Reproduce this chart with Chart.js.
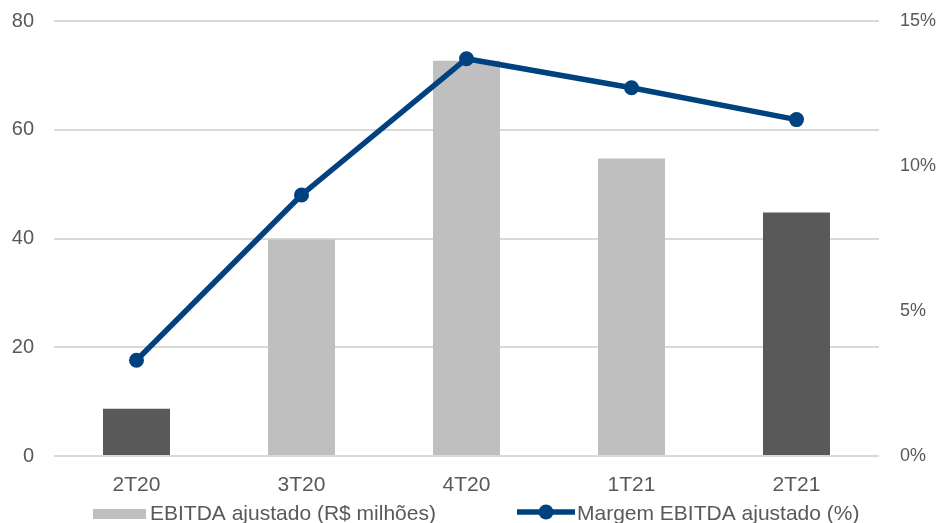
<!DOCTYPE html>
<html>
<head>
<meta charset="utf-8">
<script src="https://cdn.jsdelivr.net/npm/chart.js@4.4.0/dist/chart.umd.min.js"></script>
<style>
  html, body { margin: 0; padding: 0; background: #fff; }
</style>
</head>
<body>
<canvas id="ebitdaChart" width="937" height="523"></canvas>
<script>
// dados
const trimestres = ["2T20", "3T20", "4T20", "1T21", "2T21"];
const ebitdaAjustado = [8.7, 39.8, 72.7, 54.7, 44.8];
const margemEbitda = [3.3, 9.0, 13.7, 12.7, 11.6];
const ticksEsquerda = [0, 20, 40, 60, 80];
const ticksDireita = [0, 5, 10, 15];

const corBarras = ["#595959", "#bfbfbf", "#bfbfbf", "#bfbfbf", "#595959"];
const azul = "#00427f";
const cinzaTexto = "#595959";

Chart.defaults.font.family = '"Liberation Sans", Arial, sans-serif';
Chart.defaults.font.size = 20;
Chart.defaults.color = cinzaTexto;

// legenda desenhada à mão (caixa + linha com marcador)
const legendaManual = {
  id: "legendaManual",
  afterDraw(chart) {
    const ctx = chart.ctx;
    const barras = chart.data.datasets[0];
    const linha = chart.data.datasets[1];
    ctx.save();
    ctx.font = '21px "Liberation Sans", Arial, sans-serif';
    ctx.textBaseline = "alphabetic";

    ctx.fillStyle = "#bfbfbf";
    ctx.fillRect(93, 509, 53, 10);
    ctx.fillStyle = cinzaTexto;
    ctx.fillText(barras.label, 150, 520);

    ctx.strokeStyle = linha.borderColor;
    ctx.lineWidth = 5.5;
    ctx.beginPath();
    ctx.moveTo(517, 512);
    ctx.lineTo(575, 512);
    ctx.stroke();
    ctx.fillStyle = linha.borderColor;
    ctx.beginPath();
    ctx.arc(546, 512, 7.5, 0, Math.PI * 2);
    ctx.fill();
    ctx.fillStyle = cinzaTexto;
    ctx.fillText(linha.label, 577, 520);
    ctx.restore();
  }
};

function semFolga(scale) {
  scale.paddingTop = 0;
  scale.paddingBottom = 0;
}

new Chart(document.getElementById("ebitdaChart"), {
  type: "bar",
  data: {
    labels: trimestres,
    datasets: [
      {
        type: "bar",
        label: "EBITDA ajustado (R$ milhões)",
        data: ebitdaAjustado,
        backgroundColor: corBarras,
        barPercentage: 0.406,
        categoryPercentage: 1,
        yAxisID: "y",
        order: 2
      },
      {
        type: "line",
        label: "Margem EBITDA ajustado (%)",
        data: margemEbitda,
        borderColor: azul,
        backgroundColor: azul,
        borderWidth: 5.5,
        pointRadius: 7.5,
        pointBackgroundColor: azul,
        pointBorderWidth: 0,
        tension: 0,
        yAxisID: "y1",
        order: 1
      }
    ]
  },
  options: {
    responsive: false,
    animation: false,
    layout: { padding: { top: 21, bottom: 21, left: 0, right: 0 } },
    plugins: {
      legend: { display: false },
      tooltip: { enabled: false }
    },
    scales: {
      x: {
        grid: { display: false },
        border: { display: false },
        ticks: { padding: 9, font: { size: 21 } },
        afterFit(scale) { scale.height = 46; }
      },
      y: {
        position: "left",
        min: 0,
        max: 80,
        afterBuildTicks(scale) { scale.ticks = ticksEsquerda.map(v => ({ value: v })); },
        grid: { color: "#d9d9d9", lineWidth: 2, drawTicks: false },
        border: { display: false },
        ticks: { padding: 20 },
        afterFit(scale) { scale.width = 54; semFolga(scale); }
      },
      y1: {
        position: "right",
        min: 0,
        max: 15,
        afterBuildTicks(scale) { scale.ticks = ticksDireita.map(v => ({ value: v })); },
        grid: { display: false, drawTicks: false },
        border: { display: false },
        ticks: { padding: 21, font: { size: 18 }, callback: v => v + "%" },
        afterFit(scale) { scale.width = 58; semFolga(scale); }
      }
    }
  },
  plugins: [legendaManual]
});
</script>
</body>
</html>
